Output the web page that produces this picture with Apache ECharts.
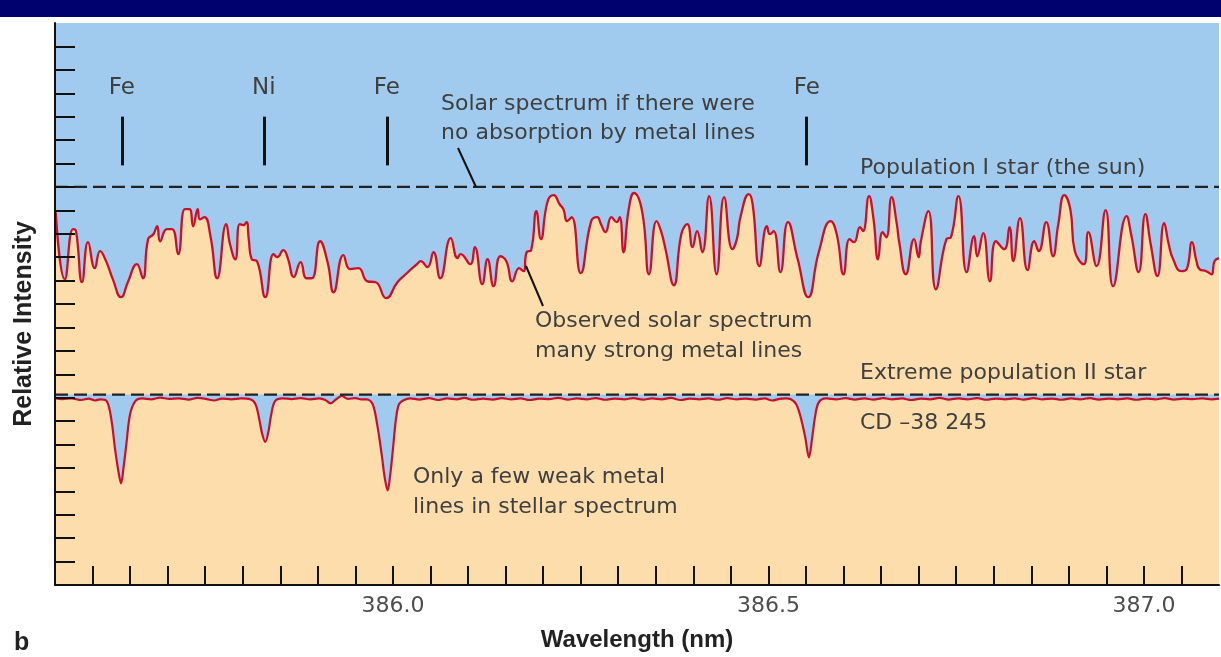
<!DOCTYPE html>
<html>
<head>
<meta charset="utf-8">
<script src="https://cdn.jsdelivr.net/npm/echarts@6/dist/echarts.min.js"></script>
<style>
html,body{margin:0;padding:0;background:#fff;}
#chart{width:1221px;height:657px;}
</style>
</head>
<body>
<div id="chart"></div>
<script>
// ---- data (wavelength in nm, relative intensity) ----
const xMin = 385.55;
const xMax = 387.1;
const xTickValues = [385.60,385.65,385.70,385.75,385.80,385.85,385.90,385.95,386.00,386.05,
  386.10,386.15,386.20,386.25,386.30,386.35,386.40,386.45,386.50,386.55,386.60,386.65,386.70,
  386.75,386.80,386.85,386.90,386.95,387.00,387.05];
const xLabelValues = [386.0, 386.5, 387.0];
const yMin = 0;
const yMax = 24;
const yTickValues = [1,2,3,4,5,6,7,8,9,10,11,12,13,14,15,16,17,18,19,20,21,22,23];
const continuumSun = 17;      // Population I continuum (no metal absorption)
const continuumHalo = 8.13;   // Extreme population II continuum
const lineWavelengths = [385.639, 385.828, 385.992, 386.551];
const lineElements = ['Fe', 'Ni', 'Fe', 'Fe'];

const solarSpectrum = [
[385.551,15.92],[385.563,13.06],[385.574,15.20],[385.578,15.11],[385.586,12.93],[385.594,14.64],
[385.603,13.53],[385.610,14.26],[385.618,13.83],[385.627,13.06],[385.638,12.29],[385.647,12.93],
[385.659,13.70],[385.667,13.10],[385.674,14.77],[385.681,14.98],[385.686,15.32],[385.690,14.68],
[385.699,15.20],[385.706,15.20],[385.714,14.13],[385.723,16.05],[385.729,16.05],[385.734,15.32],
[385.740,16.05],[385.743,15.62],[385.749,15.71],[385.757,14.90],[385.766,13.10],[385.778,15.41],
[385.783,14.56],[385.790,13.91],[385.796,15.41],[385.801,15.37],[385.805,15.50],[385.808,14.77],
[385.812,13.91],[385.819,13.83],[385.830,12.29],[385.841,14.13],[385.846,14.00],[385.854,14.30],
[385.860,13.96],[385.868,13.15],[385.877,13.79],[385.885,13.10],[385.892,13.10],[385.903,14.68],
[385.913,13.79],[385.921,12.50],[385.934,14.09],[385.943,13.49],[385.954,13.53],[385.966,12.97],
[385.977,12.93],[385.991,12.25],[386.006,12.93],[386.017,13.27],[386.032,13.70],[386.037,13.83],
[386.046,13.58],[386.054,14.21],[386.063,13.10],[386.077,14.81],[386.086,13.96],[386.090,14.13],
[386.103,13.70],[386.109,14.43],[386.119,12.85],[386.126,13.91],[386.134,12.76],[386.143,14.04],
[386.151,13.83],[386.159,12.97],[386.168,13.53],[386.174,13.40],[386.178,14.21],[386.184,14.30],
[386.191,15.97],[386.197,14.77],[386.206,16.39],[386.214,16.65],[386.222,16.26],[386.227,16.05],
[386.232,15.54],[386.238,15.71],[386.250,13.32],[386.264,15.54],[386.272,15.71],[386.277,15.41],
[386.283,15.07],[386.291,15.71],[386.298,15.50],[386.302,15.71],[386.307,14.21],[386.314,16.05],
[386.321,16.74],[386.332,15.93],[386.341,13.27],[386.351,15.54],[386.357,15.11],[386.363,14.34],
[386.374,12.80],[386.384,14.98],[386.392,15.41],[386.399,14.43],[386.405,15.11],[386.412,14.21],
[386.421,16.61],[386.431,13.27],[386.441,16.56],[386.452,14.34],[386.458,14.77],[386.463,15.75],
[386.474,16.69],[386.479,16.26],[386.488,13.62],[386.498,15.32],[386.502,14.98],[386.507,15.11],
[386.516,13.36],[386.526,15.50],[386.539,13.91],[386.553,12.29],[386.567,14.21],[386.583,15.54],
[386.591,14.98],[386.600,13.27],[386.608,14.77],[386.614,14.64],[386.622,15.28],[386.626,15.11],
[386.634,16.61],[386.640,15.62],[386.646,13.91],[386.652,15.07],[386.657,14.85],[386.664,16.56],
[386.671,15.41],[386.674,14.68],[386.683,13.27],[386.694,14.77],[386.700,14.00],[386.703,14.68],
[386.713,15.97],[386.723,12.63],[386.737,14.77],[386.743,14.85],[386.753,16.61],[386.764,13.36],
[386.774,14.90],[386.778,14.04],[386.786,15.03],[386.795,12.97],[386.803,14.68],[386.814,14.34],
[386.821,15.28],[386.826,13.83],[386.835,15.67],[386.845,13.45],[386.854,14.68],[386.860,14.26],
[386.870,15.50],[386.879,14.04],[386.886,15.41],[386.894,16.65],[386.902,16.05],[386.908,14.26],
[386.920,13.70],[386.926,15.07],[386.937,13.62],[386.949,16.01],[386.959,12.76],[386.977,15.75],
[386.983,14.98],[386.993,13.36],[387.002,15.84],[387.009,14.56],[387.018,13.19],[387.027,15.45],
[387.033,14.56],[387.039,13.91],[387.050,13.40],[387.057,13.49],[387.064,14.64],[387.070,13.83],
[387.074,13.49],[387.083,13.40],[387.090,13.27],[387.094,13.83],[387.100,13.96]
];

const haloSpectrum = [
[385.550,7.98],[385.560,7.94],[385.572,7.97],[385.585,7.90],[385.595,7.96],[385.603,7.88],
[385.610,7.93],[385.619,7.85],[385.625,7.08],[385.630,5.80],[385.634,4.94],[385.638,4.34],
[385.641,4.94],[385.645,6.01],[385.650,7.29],[385.657,7.85],[385.666,7.97],[385.678,7.93],
[385.690,8.00],[385.702,7.95],[385.715,7.97],[385.728,7.92],[385.740,7.99],[385.752,7.94],
[385.762,7.88],[385.772,7.96],[385.785,7.93],[385.798,7.97],[385.810,7.93],[385.817,7.72],
[385.822,7.08],[385.826,6.44],[385.830,6.11],[385.834,6.52],[385.838,7.29],[385.843,7.85],
[385.853,7.97],[385.865,7.94],[385.877,7.98],[385.890,7.93],[385.902,7.97],[385.910,7.90],
[385.917,7.76],[385.924,7.92],[385.932,8.08],[385.940,7.95],[385.950,7.98],[385.958,7.93],
[385.965,7.93],[385.973,7.72],[385.979,6.86],[385.985,5.58],[385.989,4.60],[385.993,4.04],
[385.996,4.60],[386.000,5.80],[386.004,7.08],[386.008,7.72],[386.014,7.89],[386.023,7.97],
[386.035,7.92],[386.048,7.98],[386.060,7.90],[386.072,7.97],[386.085,7.93],[386.095,7.99],
[386.107,7.91],[386.120,7.96],[386.133,7.92],[386.145,7.98],[386.158,7.93],[386.170,7.97],
[386.182,7.90],[386.195,7.96],[386.208,7.94],[386.220,7.99],[386.233,7.92],[386.245,7.97],
[386.258,7.93],[386.270,7.98],[386.283,7.91],[386.295,7.96],[386.308,7.93],[386.320,7.98],
[386.333,7.92],[386.345,7.97],[386.358,7.93],[386.370,7.99],[386.383,7.90],[386.395,7.96],
[386.408,7.93],[386.420,7.97],[386.433,7.91],[386.445,7.98],[386.458,7.93],[386.470,7.96],
[386.483,7.92],[386.495,7.97],[386.505,7.88],[386.515,7.95],[386.523,7.97],[386.530,7.93],
[386.537,7.72],[386.543,7.16],[386.549,6.31],[386.554,5.45],[386.558,6.22],[386.562,7.16],
[386.567,7.80],[386.577,7.97],[386.590,7.93],[386.603,7.98],[386.615,7.92],[386.628,7.97],
[386.640,7.92],[386.653,7.98],[386.665,7.93],[386.678,7.97],[386.690,7.90],[386.703,7.96],
[386.715,7.93],[386.728,7.99],[386.740,7.92],[386.753,7.97],[386.765,7.93],[386.778,7.98],
[386.790,7.91],[386.803,7.96],[386.815,7.93],[386.828,7.97],[386.840,7.92],[386.853,7.98],
[386.865,7.93],[386.878,7.96],[386.890,7.91],[386.903,7.97],[386.915,7.93],[386.928,7.98],
[386.940,7.92],[386.953,7.96],[386.965,7.93],[386.978,7.97],[386.990,7.91],[387.003,7.96],
[387.015,7.93],[387.028,7.98],[387.040,7.92],[387.053,7.96],[387.065,7.94],[387.078,7.97],
[387.090,7.93],[387.100,7.96]
];

// ---- styles ----
const BLUE = '#a0cbee';
const PEACH = '#fcddab';
const RED = '#c8102e';
const INK = '#111111';
const TXT = '#3f3f3f';
const FONT = '"DejaVu Sans", sans-serif';

const chart = echarts.init(document.getElementById('chart'), null, {renderer: 'canvas'});

function txt(text, x, y, opts) {
  return Object.assign({
    type: 'text', x: x, y: y, z: 100,
    style: {text: text, font: '22px ' + FONT, fill: TXT, verticalAlign: 'middle', align: 'left'}
  }, opts || {});
}
function seg(x1, y1, x2, y2) {
  return {type: 'line', z: 100, shape: {x1: x1, y1: y1, x2: x2, y2: y2}, style: {stroke: INK, lineWidth: 2}};
}

const option = {
  animation: false,
  backgroundColor: '#ffffff',
  grid: {left: 55, right: 2, top: 23, bottom: 71, show: true, backgroundColor: BLUE, borderWidth: 0},
  xAxis: {
    type: 'value', min: xMin, max: xMax, z: 10,
    axisLine: {show: true, lineStyle: {color: INK, width: 2}},
    axisTick: {show: true, inside: true, length: 19, customValues: xTickValues, lineStyle: {color: INK, width: 2}},
    splitLine: {show: false},
    axisLabel: {
      margin: 10, fontSize: 22, fontFamily: FONT, color: '#4d4d4d',
      customValues: xLabelValues,
      formatter: function (v) { return Number(v).toFixed(1); }
    },
    name: 'Wavelength (nm)', nameLocation: 'middle', nameGap: 43,
    nameTextStyle: {fontSize: 24, fontWeight: 'bold', fontFamily: '"Liberation Sans", Arial, sans-serif', color: '#222'}
  },
  yAxis: {
    type: 'value', min: yMin, max: yMax, z: 10,
    axisLine: {show: true, lineStyle: {color: INK, width: 2}},
    axisTick: {show: true, inside: true, length: 20, customValues: yTickValues, lineStyle: {color: INK, width: 2}},
    splitLine: {show: false},
    axisLabel: {show: false}
  },
  series: [
    {
      name: 'Observed solar spectrum', type: 'line', data: solarSpectrum,
      showSymbol: false, symbol: 'none', smooth: 0.5,
      lineStyle: {color: RED, width: 2.3}, areaStyle: {color: PEACH, opacity: 1}, z: 2
    },
    {
      name: 'halo continuum fill', type: 'line', data: [[xMin, continuumHalo], [xMax, continuumHalo]],
      showSymbol: false, symbol: 'none', lineStyle: {width: 0}, areaStyle: {color: BLUE, opacity: 1}, z: 2
    },
    {
      name: 'CD -38 245', type: 'line', data: haloSpectrum,
      showSymbol: false, symbol: 'none', smooth: 0.35,
      lineStyle: {color: RED, width: 2.2}, areaStyle: {color: PEACH, opacity: 1}, z: 2
    },
    {
      name: 'Population I continuum', type: 'line', data: [[xMin, continuumSun], [xMax, continuumSun]],
      showSymbol: false, symbol: 'none', lineStyle: {color: '#222', width: 2.2, type: [13, 6]}, z: 3,
      markLine: {
        silent: true, symbol: ['none', 'none'], animation: false,
        lineStyle: {color: INK, width: 3, type: 'solid'},
        label: {show: true, position: 'end', formatter: '{b}', fontSize: 23, fontFamily: FONT, color: TXT, distance: 17},
        data: lineWavelengths.map(function (w, i) {
          return [{coord: [w, 17.92], name: lineElements[i]}, {coord: [w, 20.0]}];
        })
      }
    },
    {
      name: 'Population II continuum', type: 'line', data: [[xMin, continuumHalo], [xMax, continuumHalo]],
      showSymbol: false, symbol: 'none', lineStyle: {color: '#222', width: 2.2, type: [13, 6]}, z: 3
    }
  ],
  graphic: [
    {type: 'rect', z: 100, shape: {x: 0, y: 0, width: 1221, height: 17}, style: {fill: '#00006e'}},
    txt('Solar spectrum if there were', 441, 104),
    txt('no absorption by metal lines', 441, 133),
    seg(458, 148, 476, 187),
    txt('Population I star (the sun)', 860, 168.5),
    txt('Observed solar spectrum', 535, 321),
    txt('many strong metal lines', 535, 351),
    seg(526, 266, 543, 306),
    txt('Extreme population II star', 860, 373),
    txt('CD \u201338 245', 860, 423),
    txt('Only a few weak metal', 413, 477),
    txt('lines in stellar spectrum', 413, 507),
    {type: 'text', x: 24, y: 324, rotation: Math.PI / 2, z: 100,
     style: {text: 'Relative Intensity', font: 'bold 25px "Liberation Sans", Arial, sans-serif', fill: '#222', align: 'center', verticalAlign: 'middle'}},
    {type: 'text', x: 14, y: 643, z: 100,
     style: {text: 'b', font: 'bold 25px "Liberation Sans", Arial, sans-serif', fill: '#222', align: 'left', verticalAlign: 'middle'}}
  ]
};
chart.setOption(option);
</script>
</body>
</html>
